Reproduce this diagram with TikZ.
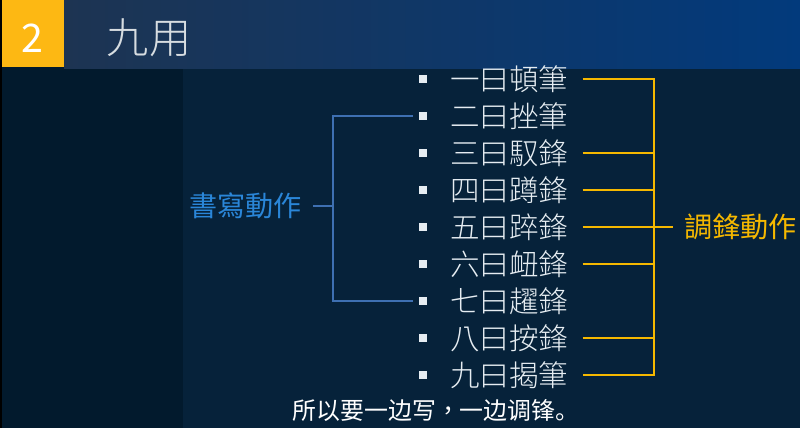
\documentclass[tikz,border=0pt]{standalone}
\usepackage{fontspec}
\newfontfamily\tcfont{Noto Sans CJK TC}
\newfontfamily\tclight{Noto Sans CJK TC Light}
\newfontfamily\scfont{Noto Sans CJK SC}
\usetikzlibrary{calc}

\definecolor{jyside}{HTML}{021A2D}
\definecolor{jymain}{HTML}{06223A}
\definecolor{jybarl}{HTML}{1D3452}
\definecolor{jybarr}{HTML}{023A7C}
\definecolor{jygold}{HTML}{FDB813}
\definecolor{jytune}{HTML}{F5B800}
\definecolor{jywline}{HTML}{3E70B2}
\definecolor{jywtext}{HTML}{2A86D8}
\definecolor{jyitem}{HTML}{E6EDF2}

\begin{document}
\begin{tikzpicture}[
  font=\tcfont,
  item/.style={font=\tclight\fontsize{21}{25}\selectfont, text=jyitem, inner sep=0pt, anchor=west},
  dot/.style={fill=jyitem, inner sep=0pt, minimum size=0.18cm},
  grp/.style={font=\tcfont\fontsize{20}{24}\selectfont, inner sep=0pt},
  tuneline/.style={draw=jytune, line width=2.1pt},
  writeline/.style={draw=jywline, line width=1.6pt},
]
  \useasboundingbox (0,0) rectangle (20,-10.7);
  % background
  \fill[jyside] (0,0) rectangle (20,-10.7);
  \fill[jymain] (4.575,-1.7) rectangle (20,-10.7);
  \fill[black] (0,0) rectangle (0.04,-10.7);
  \shade[left color=jybarl, right color=jybarr] (1.6,0) rectangle (20,-1.7);
  \fill[jygold] (0.04,0) rectangle (1.6,-1.68);

  % title
  \node[font=\tcfont\fontsize{28}{32}\selectfont, text=white] (num) at (0.82,-0.95) {2};
  \node[font=\tclight\fontsize{30}{34}\selectfont, text=jyitem!85!gray, anchor=west] (title) at (2.55,-0.95) {九用};

  % bullets
  \node[dot] (b1) at (10.575,-1.975) {};
  \node[dot] (b2) at (10.575,-2.9) {};
  \node[dot] (b3) at (10.575,-3.825) {};
  \node[dot] (b4) at (10.575,-4.75) {};
  \node[dot] (b5) at (10.575,-5.675) {};
  \node[dot] (b6) at (10.575,-6.6) {};
  \node[dot] (b7) at (10.575,-7.525) {};
  \node[dot] (b8) at (10.575,-8.45) {};
  \node[dot] (b9) at (10.575,-9.375) {};

  % the nine uses
  \node[item] (i1) at (11.25,-1.975) {一曰頓筆};
  \node[item] (i2) at (11.25,-2.9) {二曰挫筆};
  \node[item] (i3) at (11.25,-3.825) {三曰馭鋒};
  \node[item] (i4) at (11.25,-4.75) {四曰蹲鋒};
  \node[item] (i5) at (11.25,-5.675) {五曰踤鋒};
  \node[item] (i6) at (11.25,-6.6) {六曰衄鋒};
  \node[item] (i7) at (11.25,-7.525) {七曰趯鋒};
  \node[item] (i8) at (11.25,-8.45) {八曰按鋒};
  \node[item] (i9) at (11.25,-9.375) {九曰揭筆};

  % group labels
  \node[grp, text=jywtext, anchor=east] (write) at (7.55,-5.15) {書寫動作};
  \node[grp, text=jytune, anchor=west] (tune) at (17.1,-5.675) {調鋒動作};

  % writing bracket
  \coordinate (wtop) at (8.325,-2.9);
  \coordinate (wbot) at (8.325,-7.525);
  \draw[writeline] ([xshift=-0.15cm]b2.west) -- (wtop) -- (wbot) -- ([xshift=-0.15cm]b7.west);
  \draw[writeline] ([xshift=0.28cm]write.east) -- (write.east -| wtop);

  % tuning bracket
  \coordinate (ttop) at (16.35,-1.975);
  \coordinate (tbot) at (16.35,-9.375);
  \draw[tuneline] ([xshift=0.35cm]i1.east) -- (ttop) -- (tbot) -- ([xshift=0.35cm]i9.east);
  \draw[tuneline] ([xshift=0.35cm]i3.east) -- (i3.east -| ttop);
  \draw[tuneline] ([xshift=0.35cm]i4.east) -- (i4.east -| ttop);
  \draw[tuneline] ([xshift=0.35cm]i5.east) -- (i5.east -| ttop);
  \draw[tuneline] ([xshift=0.35cm]i6.east) -- (i6.east -| ttop);
  \draw[tuneline] ([xshift=0.35cm]i8.east) -- (i8.east -| ttop);
  \draw[tuneline] (i5.east -| ttop) -- ([xshift=-0.28cm]tune.west);

  % subtitle
  \node[font=\scfont\fontsize{17}{20}\selectfont, text=white] (sub) at (10.9,-10.25) {所以要一边写{\tcfont ，}一边调锋。};
\end{tikzpicture}
\end{document}
